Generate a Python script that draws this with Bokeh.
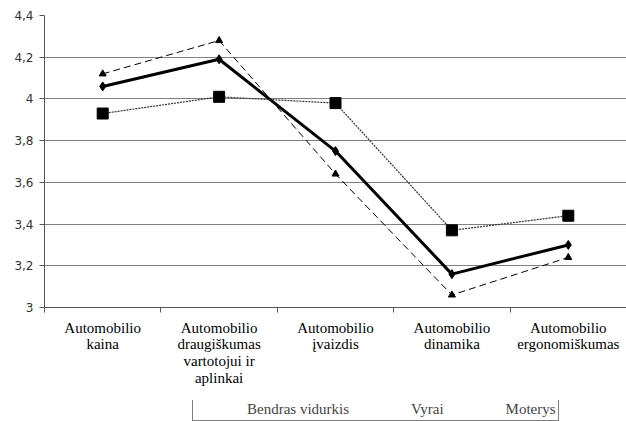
from bokeh.plotting import figure
from bokeh.layouts import column
from bokeh.models import FixedTicker, Legend, LegendItem, Range1d
from bokeh.embed import file_html
from bokeh.resources import INLINE

categories = ["Automobilio\nkaina",
              "Automobilio\ndraugiškumas\nvartotojui ir\naplinkai",
              "Automobilio\nįvaizdis",
              "Automobilio\ndinamika",
              "Automobilio\nergonomiškumas"]
bendras = [4.06, 4.19, 3.75, 3.16, 3.30]
vyrai = [3.93, 4.01, 3.98, 3.37, 3.44]
moterys = [4.12, 4.28, 3.64, 3.06, 3.24]
series_names = ["Bendras vidurkis", "Vyrai", "Moterys"]
y_ticks = [3.0, 3.2, 3.4, 3.6, 3.8, 4.0, 4.2, 4.4]
y_labels = ["3", "3,2", "3,4", "3,6", "3,8", "4", "4,2", "4,4"]

x = list(range(len(categories)))

p = figure(frame_width=582, frame_height=292, output_backend="svg", toolbar_location=None,
           x_range=Range1d(-0.5, len(categories) - 0.5), y_range=Range1d(3.0, 4.4),
           min_border_left=44, min_border_top=15, min_border_right=0, min_border_bottom=93)
p.outline_line_color = None
p.background_fill_color = "white"

# axes
p.xaxis.ticker = FixedTicker(ticks=x, minor_ticks=[i - 0.5 for i in range(len(categories) + 1)])
p.xaxis.major_label_overrides = {i: c for i, c in enumerate(categories)}
p.xaxis.major_tick_line_color = None
p.xaxis.minor_tick_out = 5
p.xaxis.minor_tick_in = 0
p.xaxis.minor_tick_line_color = "#555555"
p.xaxis.axis_line_color = "#555555"
p.xaxis.major_label_text_font = "Liberation Serif"
p.xaxis.major_label_text_font_size = "15px"
p.xaxis.major_label_text_color = "black"
p.xaxis.major_label_standoff = 6
p.xaxis.major_label_text_line_height = 1.06

p.yaxis.ticker = FixedTicker(ticks=y_ticks)
p.yaxis.major_label_overrides = {t: l for t, l in zip(y_ticks, y_labels)}
p.yaxis.major_tick_out = 5
p.yaxis.major_tick_in = 0
p.yaxis.minor_tick_line_color = None
p.yaxis.axis_line_color = "#555555"
p.yaxis.major_tick_line_color = "#555555"
p.yaxis.major_label_text_font = "DejaVu Sans"
p.yaxis.major_label_text_font_size = "12px"
p.yaxis.major_label_text_color = "#333333"
p.yaxis.major_label_standoff = 6

p.xgrid.grid_line_color = None
p.ygrid.grid_line_color = "#808080"
p.ygrid.grid_line_width = 1.2

# series
p.line(x, bendras, line_color="black", line_width=3)
p.scatter(x, bendras, marker="diamond", size=9, color="black")
p.line(x, vyrai, line_color="#333333", line_width=1.2, line_dash="2 1")
p.scatter(x, vyrai, marker="square", size=11, color="black")
p.line(x, moterys, line_color="black", line_width=1, line_dash="7 4")
p.scatter(x, moterys, marker="triangle", size=7, color="black")

# legend strip (separate small figure below the chart)
lg = figure(width=626, height=21, output_backend="svg", toolbar_location=None,
            x_range=Range1d(0, 1), y_range=Range1d(0, 1),
            x_axis_type=None, y_axis_type=None,
            min_border_left=0, min_border_right=0, min_border_top=0, min_border_bottom=0)
lg.outline_line_color = None
lg.xgrid.grid_line_color = None
lg.ygrid.grid_line_color = None
k1 = lg.line([], [], line_color="black", line_width=3)
s1 = lg.scatter([], [], marker="diamond", size=9, color="black")
k2 = lg.line([], [], line_color="#333333", line_width=1.2, line_dash="2 1")
s2 = lg.scatter([], [], marker="square", size=11, color="black")
k3 = lg.line([], [], line_color="black", line_width=1, line_dash="7 4")
s3 = lg.scatter([], [], marker="triangle", size=7, color="black")

legend = Legend(items=[LegendItem(label=series_names[0], renderers=[k1, s1]),
                       LegendItem(label=series_names[1], renderers=[k2, s2]),
                       LegendItem(label=series_names[2], renderers=[k3, s3])],
                orientation="horizontal", location=(148, 0),
                label_text_font="Liberation Serif", label_text_font_size="15px",
                label_standoff=2, glyph_width=50, glyph_height=14, spacing=10,
                padding=2, margin=0, border_line_color="black", border_line_width=1,
                label_height=14, background_fill_alpha=1.0)
lg.add_layout(legend, "center")

layout = column(p, lg, spacing=0)
open("out.html", "w").write(file_html(layout, INLINE))
